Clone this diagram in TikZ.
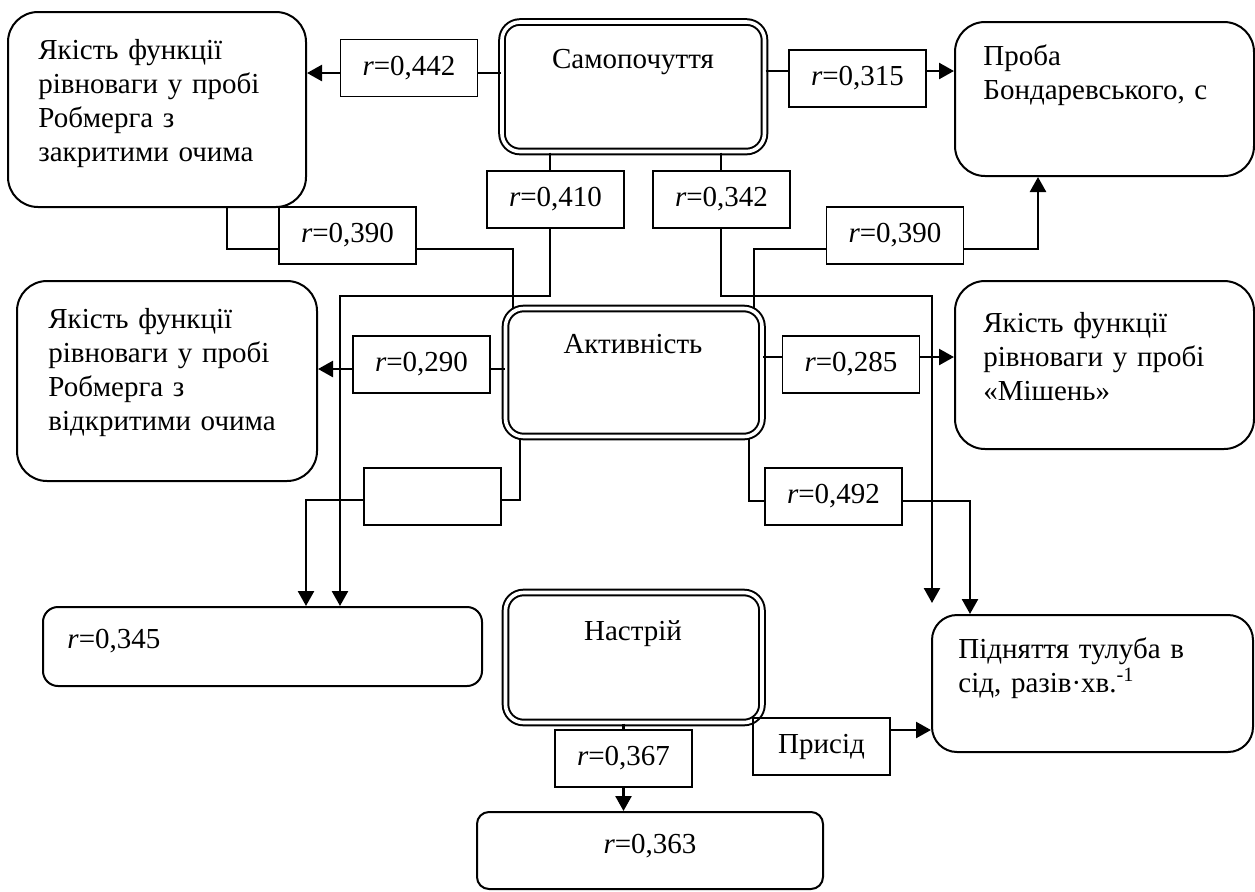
\documentclass[tikz,border=0pt]{standalone}
\usepackage{fontspec}
\setmainfont{Liberation Serif}
\usetikzlibrary{arrows.meta}
\begin{document}
\begin{tikzpicture}[x=0.5pt,y=-0.5pt,
  every node/.style={font=\fontsize{14.5}{17}\selectfont},
  lbl/.style={draw, line width=0.9pt, rectangle, minimum width=68.5pt, minimum height=28.5pt, inner sep=0pt},
  rbox/.style={draw, line width=1pt, rectangle, rounded corners=#1, inner sep=0pt},
  rbox/.default=15pt,
  dbox/.style={draw, line width=1pt, double, double distance=1.8pt, rounded corners=9pt, inner sep=0pt},
  txt/.style={anchor=base west, inner sep=0pt, text width=165pt, align=left},
  ctxt/.style={anchor=base, inner sep=0pt},
  con/.style={line width=1.25pt},
  arr/.style={con, -{Triangle[length=7.5pt,width=8pt]}}
]
\useasboundingbox (0,0) rectangle (1255,891);

% main boxes
\node[rbox, minimum width=149pt, minimum height=97.5pt] (A) at (157,109.5) {};
\node[rbox, minimum width=149.5pt, minimum height=77pt] (B) at (1104.5,99) {};
\node[rbox, minimum width=150pt, minimum height=100pt] (C) at (167,381) {};
\node[rbox, minimum width=149.5pt, minimum height=84pt] (D) at (1104.5,365) {};
\node[rbox=7.5pt, minimum width=219.5pt, minimum height=39.5pt] (E) at (262.5,646.5) {};
\node[rbox=12.5pt, minimum width=160.5pt, minimum height=68.5pt] (F) at (1092.5,683.5) {};
\node[rbox=6pt, minimum width=173pt, minimum height=38.5pt] (G) at (650,850.5) {};

\node[dbox, minimum width=131.25pt, minimum height=64.75pt] (S) at (633.25,86.75) {};
\node[dbox, minimum width=128.25pt, minimum height=64pt] (Ak) at (633.75,372.5) {};
\node[dbox, minimum width=128.25pt, minimum height=65pt] (N) at (633.75,657.5) {};

% texts
\node[txt] (tA) at (38,59) {Якість функції\\рівноваги у пробі\\Робмерга з\\закритими очима};
\node[txt] (tB) at (983,65) {Проба\\Бондаревського, с};
\node[txt] (tC) at (48,328) {Якість функції\\рівноваги у пробі\\Робмерга з\\відкритими очима};
\node[txt] (tD) at (983,332) {Якість функції\\рівноваги у пробі\\«Мішень»};
\node[txt] (tF) at (958,658) {Підняття тулуба в\\сід, разів·хв.\textsuperscript{-1}};
\node[txt] (tE) at (67,648) {\textit{r}=0,345};
\node[ctxt] (tG) at (650,853) {\textit{r}=0,363};
\node[ctxt] (tS) at (633,68) {Самопочуття};
\node[ctxt] (tAk) at (633,353) {Активність};
\node[ctxt] (tN) at (633,640) {Настрій};

% labels
\node[lbl] (L442) at (409,68) {\textit{r}=0,442};
\node[lbl] (L315) at (857.5,78.5) {\textit{r}=0,315};
\node[lbl] (L410) at (555.5,199.5) {\textit{r}=0,410};
\node[lbl] (L342) at (721.5,199.5) {\textit{r}=0,342};
\node[lbl] (L390a) at (347.5,235.5) {\textit{r}=0,390};
\node[lbl] (L390b) at (895,235.5) {\textit{r}=0,390};
\node[lbl] (L290) at (421.5,364.5) {\textit{r}=0,290};
\node[lbl] (L285) at (851,364.5) {\textit{r}=0,285};
\node[lbl] (Le) at (432.5,496.5) {};
\node[lbl] (L492) at (833.5,496.5) {\textit{r}=0,492};
\node[lbl] (L367) at (623.5,758.5) {\textit{r}=0,367};
\node[lbl] (Pr) at (821.5,746.5) {Присід};

% helper coordinates
\coordinate (y73) at (0,73);
\coordinate (y71) at (0,71);
\coordinate (k0) at (550,296);
\coordinate (k1) at (340,296);
\coordinate (k2) at (721,296);
\coordinate (k3) at (932,296);
\coordinate (k3e) at (932,603);
\coordinate (k4) at (227,249);
\coordinate (k5) at (513,249);
\coordinate (k6) at (754,249);
\coordinate (k7) at (1038,249);
\coordinate (y369) at (0,369);
\coordinate (y357) at (0,357);
\coordinate (k9) at (520,500);
\coordinate (k10) at (306,500);
\coordinate (k11) at (749,501);
\coordinate (k12) at (970,501);
\coordinate (y730) at (0,730);

% connectors
\draw[con] (S.west |- y73) -- (L442.east |- y73);
\draw[arr] (L442.west |- y73) -- (A.east |- y73);
\draw[con] (S.east |- y71) -- (L315.west |- y71);
\draw[arr] (L315.east |- y71) -- (B.west |- y71);
\draw[con] (S.south -| k0) -- (L410.north -| k0);
\draw[arr] (L410.south -| k0) -- (k0) -- (k1) -- (k1 |- E.north);
\draw[con] (S.south -| k2) -- (L342.north -| k2);
\draw[arr] (L342.south -| k2) -- (k2) -- (k3) -- (k3e);
\draw[con] (A.south -| k4) -- (k4) -- (L390a.west |- k4);
\draw[con] (L390a.east |- k4) -- (k5) -- (k5 |- Ak.north);
\draw[con] (Ak.north -| k6) -- (k6) -- (L390b.west |- k6);
\draw[arr] (L390b.east |- k6) -- (k7) -- (k7 |- B.south);
\draw[con] (Ak.west |- y369) -- (L290.east |- y369);
\draw[arr] (L290.west |- y369) -- (C.east |- y369);
\draw[con] (Ak.east |- y357) -- (L285.west |- y357);
\draw[arr] (L285.east |- y357) -- (D.west |- y357);
\draw[con] (Ak.south -| k9) -- (k9) -- (Le.east |- k9);
\draw[arr] (Le.west |- k9) -- (k10) -- (k10 |- E.north);
\draw[con] (Ak.south -| k11) -- (k11) -- (L492.west |- k11);
\draw[arr] (L492.east |- k11) -- (k12) -- (k12 |- F.north);
\draw[con] (N.south -| L367.north) -- (L367.north);
\draw[arr] (L367.south) -- (G.north -| L367.south);
\draw[arr] (Pr.east |- y730) -- (F.west |- y730);
\end{tikzpicture}
\end{document}
